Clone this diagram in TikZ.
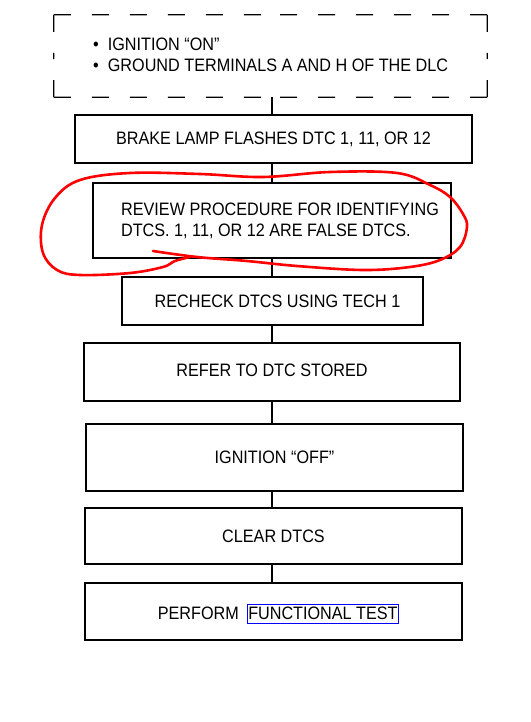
\documentclass[tikz,border=0pt]{standalone}
\usepackage{fontspec}
\usetikzlibrary{calc}
\setmainfont{Liberation Sans}[FakeStretch=0.9]
\begin{document}
\begin{tikzpicture}[x=1pt,y=-1pt,
  every node/.style={font=\fontsize{18}{21}\selectfont, inner sep=0pt},
  stepbox/.style={draw, line width=1.2pt, rectangle},
  dashside/.style={line width=1.2pt, dash pattern=on 17pt off 21pt},
  link/.style={line width=1.2pt},
  mark red/.style={draw=red, line width=2.6pt, line cap=round, line join=round}]
\useasboundingbox (0,0) rectangle (530,722);
\coordinate (spine) at (272,0);

\node[minimum width=433pt, minimum height=82pt] (d0) at (270.5,56) {};
\foreach \p/\q in {north west/north east, north east/south east, south east/south west, south west/north west}{
  \draw[dashside] (d0.\p) -- ($(d0.\p)!0.5!(d0.\q)$);
  \draw[dashside] (d0.\q) -- ($(d0.\p)!0.5!(d0.\q)$);
}
\node[align=left, anchor=west] (t0) at (93,54.5) {\textbullet\ \ IGNITION “ON”\\\textbullet\ \ GROUND TERMINALS A AND H OF THE DLC};

\node[stepbox, minimum width=397pt, minimum height=48pt] (b1) at (273.5,139) {BRAKE LAMP FLASHES DTC 1, 11, OR 12};
\node[stepbox, minimum width=358pt, minimum height=75pt, align=left] (b2) at (272,220.5) {\hspace*{16pt}REVIEW PROCEDURE FOR IDENTIFYING\\\hspace*{16pt}DTCS. 1, 11, OR 12 ARE FALSE DTCS.};
\node[stepbox, minimum width=301pt, minimum height=48pt] (b3) at (272.5,301) {\hspace*{10pt}RECHECK DTCS USING TECH 1};
\node[stepbox, minimum width=376pt, minimum height=58pt] (b4) at (272,372) {\raisebox{3pt}{REFER TO DTC STORED}};
\node[stepbox, minimum width=377pt, minimum height=67pt] (b5) at (274.5,457.5) {IGNITION “OFF”};
\node[stepbox, minimum width=377pt, minimum height=56pt] (b6) at (273.5,536) {CLEAR DTCS};
\node[stepbox, minimum width=377pt, minimum height=57pt] (b7) at (273.5,611.5) {};
\node[draw=blue, line width=0.9pt, minimum width=151pt, minimum height=19pt, anchor=west] (ft) at (247,613.5) {FUNCTIONAL TEST};
\node[anchor=east] (pf) at (239,613) {PERFORM};

\foreach \a/\b in {d0/b1, b1/b2, b2/b3, b3/b4, b4/b5, b5/b6, b6/b7}
  \draw[link] (\a.south -| spine) -- (\b.north -| spine);

\draw[mark red] plot[smooth, tension=0.6] coordinates {
  (153,251) (197,257) (247,261) (297,266) (363,270) (410,267) (440,260) (460,247)
  (467,227) (463,214) (450,197) (430,185) (397,173) (330,172) (263,177) (200,174)
  (130,173) (80,180) (55,198) (42,225) (43,253) (57,270) (80,275) (130,273)
  (163,267) (175,261) (190,257)};
\end{tikzpicture}
\end{document}
